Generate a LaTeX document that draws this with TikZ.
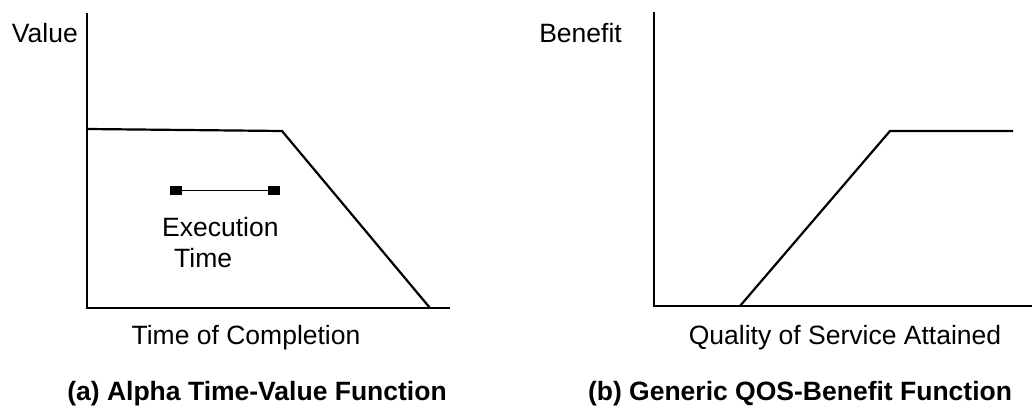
\documentclass[tikz,border=0pt]{standalone}
\usepackage{fontspec}
\setmainfont{Liberation Sans}
\begin{document}
\begin{tikzpicture}[x=1pt,y=-1pt,
  axis/.style={line width=1.8pt},
  curve/.style={line width=2.2pt, line join=miter},
  lbl/.style={inner sep=0pt, font=\fontsize{26.5}{30}\selectfont},
  captext/.style={inner sep=0pt, font=\fontsize{26.5}{30}\selectfont\bfseries},
  endmark/.style={fill=black, minimum width=12pt, minimum height=9pt, inner sep=0pt}]
\useasboundingbox (0,0) rectangle (1035,411);

% ---- (a) time-value function ----
\coordinate (aTop) at (87,13);
\coordinate (aO) at (87,308);
\coordinate (aEnd) at (450,308);
\draw[axis] (aTop) -- (aO) -- (aEnd);
\coordinate (aP0) at (87,129);
\coordinate (aP1) at (282,131);
\coordinate (aP2) at (430,308);
\draw[curve] (aP0) -- (aP1) -- (aP2);

\node[endmark] (eL) at (176,190.5) {};
\node[endmark] (eR) at (274,190.5) {};
\draw[line width=1pt] (eL) -- (eR);
\node[lbl, anchor=base west] (exec) at (162,237) {Execution};
\node[lbl, anchor=base west] (etime) at (174,268) {Time};

\node[lbl, anchor=base east] (value) at (78,43) {Value};
\node[lbl, anchor=base] (xa) at (246,344) {Time of Completion};
\node[captext, anchor=base] (capa) at (257,400) {(a) Alpha Time-Value Function};

% ---- (b) QOS-benefit function ----
\coordinate (bTop) at (654,12);
\coordinate (bO) at (654,306);
\coordinate (bEnd) at (1032,306);
\draw[axis] (bTop) -- (bO) -- (bEnd);
\coordinate (bP0) at (740,306);
\coordinate (bP1) at (890,131);
\coordinate (bP2) at (1013,131);
\draw[curve] (bP0) -- (bP1) -- (bP2);

\node[lbl, anchor=base east] (benefit) at (622,43) {Benefit};
\node[lbl, anchor=base] (xb) at (845,344) {Quality of Service Attained};
\node[captext, anchor=base] (capb) at (800,400) {(b) Generic QOS-Benefit Function};
\end{tikzpicture}
\end{document}
